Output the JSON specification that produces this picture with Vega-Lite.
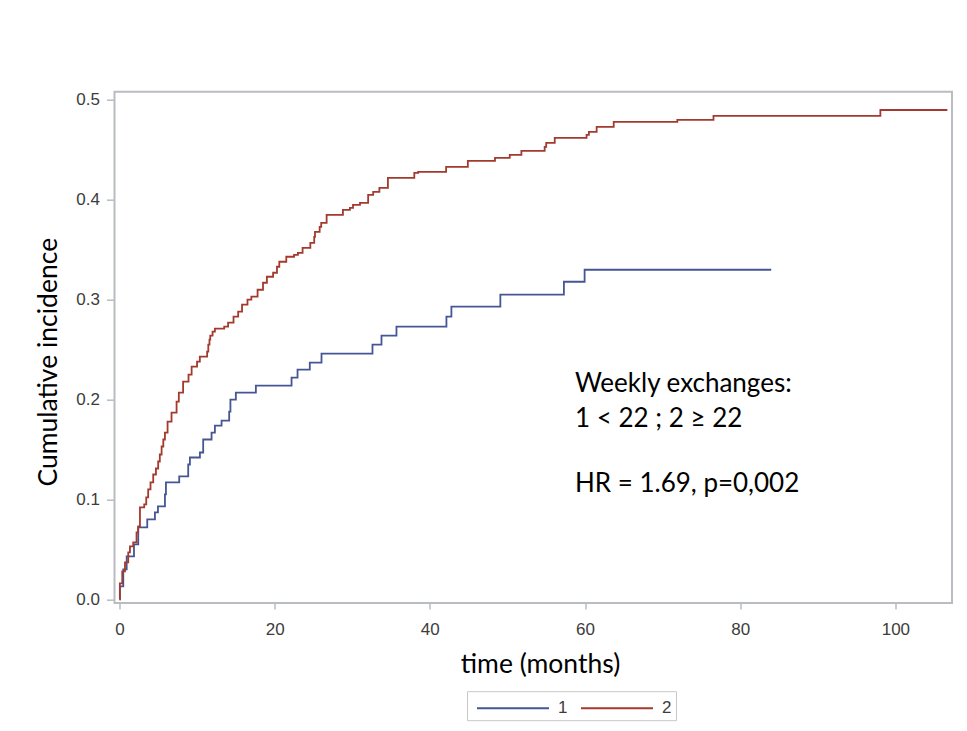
{
  "$schema": "https://vega.github.io/schema/vega-lite/v6.json",
  "width": 837.5,
  "height": 511.3,
  "autosize": {"type": "none"},
  "padding": {"left": 114.5, "top": 91.7, "right": 15, "bottom": 128},
  "background": "white",
  "datasets": {
    "km": [
      {"time": 0, "inc": 0, "group": "1"},
      {"time": 0.06, "inc": 0.013, "group": "1"},
      {"time": 0.49, "inc": 0.03, "group": "1"},
      {"time": 0.93, "inc": 0.043, "group": "1"},
      {"time": 1.87, "inc": 0.055, "group": "1"},
      {"time": 2.42, "inc": 0.072, "group": "1"},
      {"time": 3.58, "inc": 0.08, "group": "1"},
      {"time": 4.57, "inc": 0.087, "group": "1"},
      {"time": 4.96, "inc": 0.093, "group": "1"},
      {"time": 5.86, "inc": 0.105, "group": "1"},
      {"time": 5.99, "inc": 0.117, "group": "1"},
      {"time": 7.7, "inc": 0.123, "group": "1"},
      {"time": 8.86, "inc": 0.135, "group": "1"},
      {"time": 9.08, "inc": 0.142, "group": "1"},
      {"time": 10.37, "inc": 0.147, "group": "1"},
      {"time": 10.79, "inc": 0.16, "group": "1"},
      {"time": 11.87, "inc": 0.167, "group": "1"},
      {"time": 12.3, "inc": 0.174, "group": "1"},
      {"time": 13.16, "inc": 0.179, "group": "1"},
      {"time": 14.14, "inc": 0.188, "group": "1"},
      {"time": 14.3, "inc": 0.2, "group": "1"},
      {"time": 15.0, "inc": 0.207, "group": "1"},
      {"time": 17.58, "inc": 0.214, "group": "1"},
      {"time": 22.18, "inc": 0.222, "group": "1"},
      {"time": 22.95, "inc": 0.23, "group": "1"},
      {"time": 24.53, "inc": 0.237, "group": "1"},
      {"time": 26.04, "inc": 0.246, "group": "1"},
      {"time": 32.61, "inc": 0.255, "group": "1"},
      {"time": 33.77, "inc": 0.264, "group": "1"},
      {"time": 35.7, "inc": 0.273, "group": "1"},
      {"time": 42.14, "inc": 0.283, "group": "1"},
      {"time": 42.78, "inc": 0.293, "group": "1"},
      {"time": 49.09, "inc": 0.305, "group": "1"},
      {"time": 57.28, "inc": 0.318, "group": "1"},
      {"time": 59.95, "inc": 0.33, "group": "1"},
      {"time": 84.0, "inc": 0.33, "group": "1"},
      {"time": 0, "inc": 0, "group": "2"},
      {"time": 0.05, "inc": 0.016, "group": "2"},
      {"time": 0.36, "inc": 0.028, "group": "2"},
      {"time": 0.71, "inc": 0.037, "group": "2"},
      {"time": 1.13, "inc": 0.047, "group": "2"},
      {"time": 1.35, "inc": 0.053, "group": "2"},
      {"time": 1.77, "inc": 0.057, "group": "2"},
      {"time": 2.2, "inc": 0.067, "group": "2"},
      {"time": 2.41, "inc": 0.073, "group": "2"},
      {"time": 2.64, "inc": 0.092, "group": "2"},
      {"time": 3.19, "inc": 0.095, "group": "2"},
      {"time": 3.45, "inc": 0.102, "group": "2"},
      {"time": 3.7, "inc": 0.11, "group": "2"},
      {"time": 4.0, "inc": 0.117, "group": "2"},
      {"time": 4.35, "inc": 0.125, "group": "2"},
      {"time": 4.7, "inc": 0.131, "group": "2"},
      {"time": 4.99, "inc": 0.138, "group": "2"},
      {"time": 5.2, "inc": 0.145, "group": "2"},
      {"time": 5.43, "inc": 0.153, "group": "2"},
      {"time": 5.65, "inc": 0.16, "group": "2"},
      {"time": 5.86, "inc": 0.167, "group": "2"},
      {"time": 6.2, "inc": 0.178, "group": "2"},
      {"time": 6.71, "inc": 0.187, "group": "2"},
      {"time": 7.36, "inc": 0.198, "group": "2"},
      {"time": 7.65, "inc": 0.207, "group": "2"},
      {"time": 8.2, "inc": 0.218, "group": "2"},
      {"time": 8.9, "inc": 0.225, "group": "2"},
      {"time": 9.3, "inc": 0.233, "group": "2"},
      {"time": 10.0, "inc": 0.238, "group": "2"},
      {"time": 10.36, "inc": 0.243, "group": "2"},
      {"time": 11.3, "inc": 0.248, "group": "2"},
      {"time": 11.45, "inc": 0.255, "group": "2"},
      {"time": 11.6, "inc": 0.26, "group": "2"},
      {"time": 11.7, "inc": 0.264, "group": "2"},
      {"time": 12.0, "inc": 0.268, "group": "2"},
      {"time": 12.3, "inc": 0.271, "group": "2"},
      {"time": 13.5, "inc": 0.273, "group": "2"},
      {"time": 14.0, "inc": 0.277, "group": "2"},
      {"time": 14.7, "inc": 0.283, "group": "2"},
      {"time": 15.3, "inc": 0.288, "group": "2"},
      {"time": 15.8, "inc": 0.295, "group": "2"},
      {"time": 16.5, "inc": 0.3, "group": "2"},
      {"time": 17.0, "inc": 0.303, "group": "2"},
      {"time": 17.8, "inc": 0.31, "group": "2"},
      {"time": 18.5, "inc": 0.317, "group": "2"},
      {"time": 19.0, "inc": 0.323, "group": "2"},
      {"time": 19.8, "inc": 0.327, "group": "2"},
      {"time": 20.3, "inc": 0.333, "group": "2"},
      {"time": 20.6, "inc": 0.338, "group": "2"},
      {"time": 21.5, "inc": 0.343, "group": "2"},
      {"time": 22.5, "inc": 0.345, "group": "2"},
      {"time": 23.0, "inc": 0.347, "group": "2"},
      {"time": 23.6, "inc": 0.352, "group": "2"},
      {"time": 24.6, "inc": 0.357, "group": "2"},
      {"time": 25.1, "inc": 0.363, "group": "2"},
      {"time": 25.2, "inc": 0.368, "group": "2"},
      {"time": 25.8, "inc": 0.373, "group": "2"},
      {"time": 26.0, "inc": 0.377, "group": "2"},
      {"time": 26.7, "inc": 0.385, "group": "2"},
      {"time": 28.8, "inc": 0.39, "group": "2"},
      {"time": 29.7, "inc": 0.392, "group": "2"},
      {"time": 30.1, "inc": 0.395, "group": "2"},
      {"time": 31.0, "inc": 0.397, "group": "2"},
      {"time": 32.05, "inc": 0.405, "group": "2"},
      {"time": 32.7, "inc": 0.408, "group": "2"},
      {"time": 33.5, "inc": 0.412, "group": "2"},
      {"time": 34.6, "inc": 0.422, "group": "2"},
      {"time": 38.0, "inc": 0.427, "group": "2"},
      {"time": 38.5, "inc": 0.428, "group": "2"},
      {"time": 42.1, "inc": 0.433, "group": "2"},
      {"time": 44.9, "inc": 0.439, "group": "2"},
      {"time": 48.4, "inc": 0.442, "group": "2"},
      {"time": 50.3, "inc": 0.445, "group": "2"},
      {"time": 51.8, "inc": 0.449, "group": "2"},
      {"time": 54.8, "inc": 0.453, "group": "2"},
      {"time": 55.0, "inc": 0.457, "group": "2"},
      {"time": 56.1, "inc": 0.462, "group": "2"},
      {"time": 60.2, "inc": 0.465, "group": "2"},
      {"time": 60.5, "inc": 0.468, "group": "2"},
      {"time": 61.5, "inc": 0.473, "group": "2"},
      {"time": 63.7, "inc": 0.478, "group": "2"},
      {"time": 71.9, "inc": 0.48, "group": "2"},
      {"time": 76.56, "inc": 0.484, "group": "2"},
      {"time": 98.07, "inc": 0.49, "group": "2"},
      {"time": 106.7, "inc": 0.49, "group": "2"}
    ],
    "notes": [
      {"time": 58.7, "inc": 0.2077, "text": "Weekly exchanges:"},
      {"time": 58.7, "inc": 0.1728, "text": "1 < 22 ; 2 ≥ 22"},
      {"time": 58.7, "inc": 0.1077, "text": "HR = 1.69, p=0,002"}
    ]
  },
  "layer": [
    {
      "data": {"name": "km"},
      "mark": {"type": "line", "interpolate": "step-after", "strokeWidth": 1.8},
      "encoding": {
        "x": {
          "field": "time", "type": "quantitative",
          "scale": {"domain": [-0.64, 107.3], "nice": false, "zero": false},
          "axis": {"values": [0, 20, 40, 60, 80, 100], "title": "time (months)", "titleX": 425.5, "titleY": 61}
        },
        "y": {
          "field": "inc", "type": "quantitative",
          "scale": {"domain": [-0.0037, 0.5083], "nice": false, "zero": false},
          "axis": {"values": [0, 0.1, 0.2, 0.3, 0.4, 0.5], "format": ".1f", "title": "Cumulative incidence", "titleX": -66, "titleY": 270}
        },
        "color": {
          "field": "group", "type": "nominal",
          "scale": {"domain": ["1", "2"], "range": ["#445694", "#A23A2E"]},
          "legend": {
            "title": null, "orient": "none", "legendX": 352.5, "legendY": 599.5, "direction": "horizontal",
            "symbolType": "M-3,0H3", "symbolSize": 576, "symbolOffset": 29, "labelOffset": 32,
            "symbolStrokeWidth": 2, "labelFontSize": 17, "labelFont": "Liberation Sans", "labelColor": "#3c3c3c",
            "strokeColor": "#c8c8c8", "padding": 4, "columnPadding": 7
          }
        }
      }
    },
    {
      "data": {"name": "notes"},
      "mark": {"type": "text", "align": "left", "baseline": "alphabetic", "font": "Lato", "fontSize": 26, "color": "#000"},
      "encoding": {
        "x": {"field": "time", "type": "quantitative"},
        "y": {"field": "inc", "type": "quantitative"},
        "text": {"field": "text"}
      }
    }
  ],
  "config": {
    "view": {"stroke": "#b9bcc0", "strokeWidth": 2},
    "axis": {
      "domain": false, "grid": false, "tickColor": "#b9bcc0", "tickWidth": 1.5,
      "labelColor": "#3c3c3c", "labelFont": "Liberation Sans", "labelFontSize": 17,
      "titleFont": "Lato", "titleFontSize": 26.5, "titleFontWeight": "normal", "titleColor": "#000",
      "titleAlign": "center", "titleBaseline": "middle"
    },
    "axisX": {"tickSize": 6, "labelPadding": 12},
    "axisY": {"tickSize": 8, "labelPadding": 7}
  }
}
